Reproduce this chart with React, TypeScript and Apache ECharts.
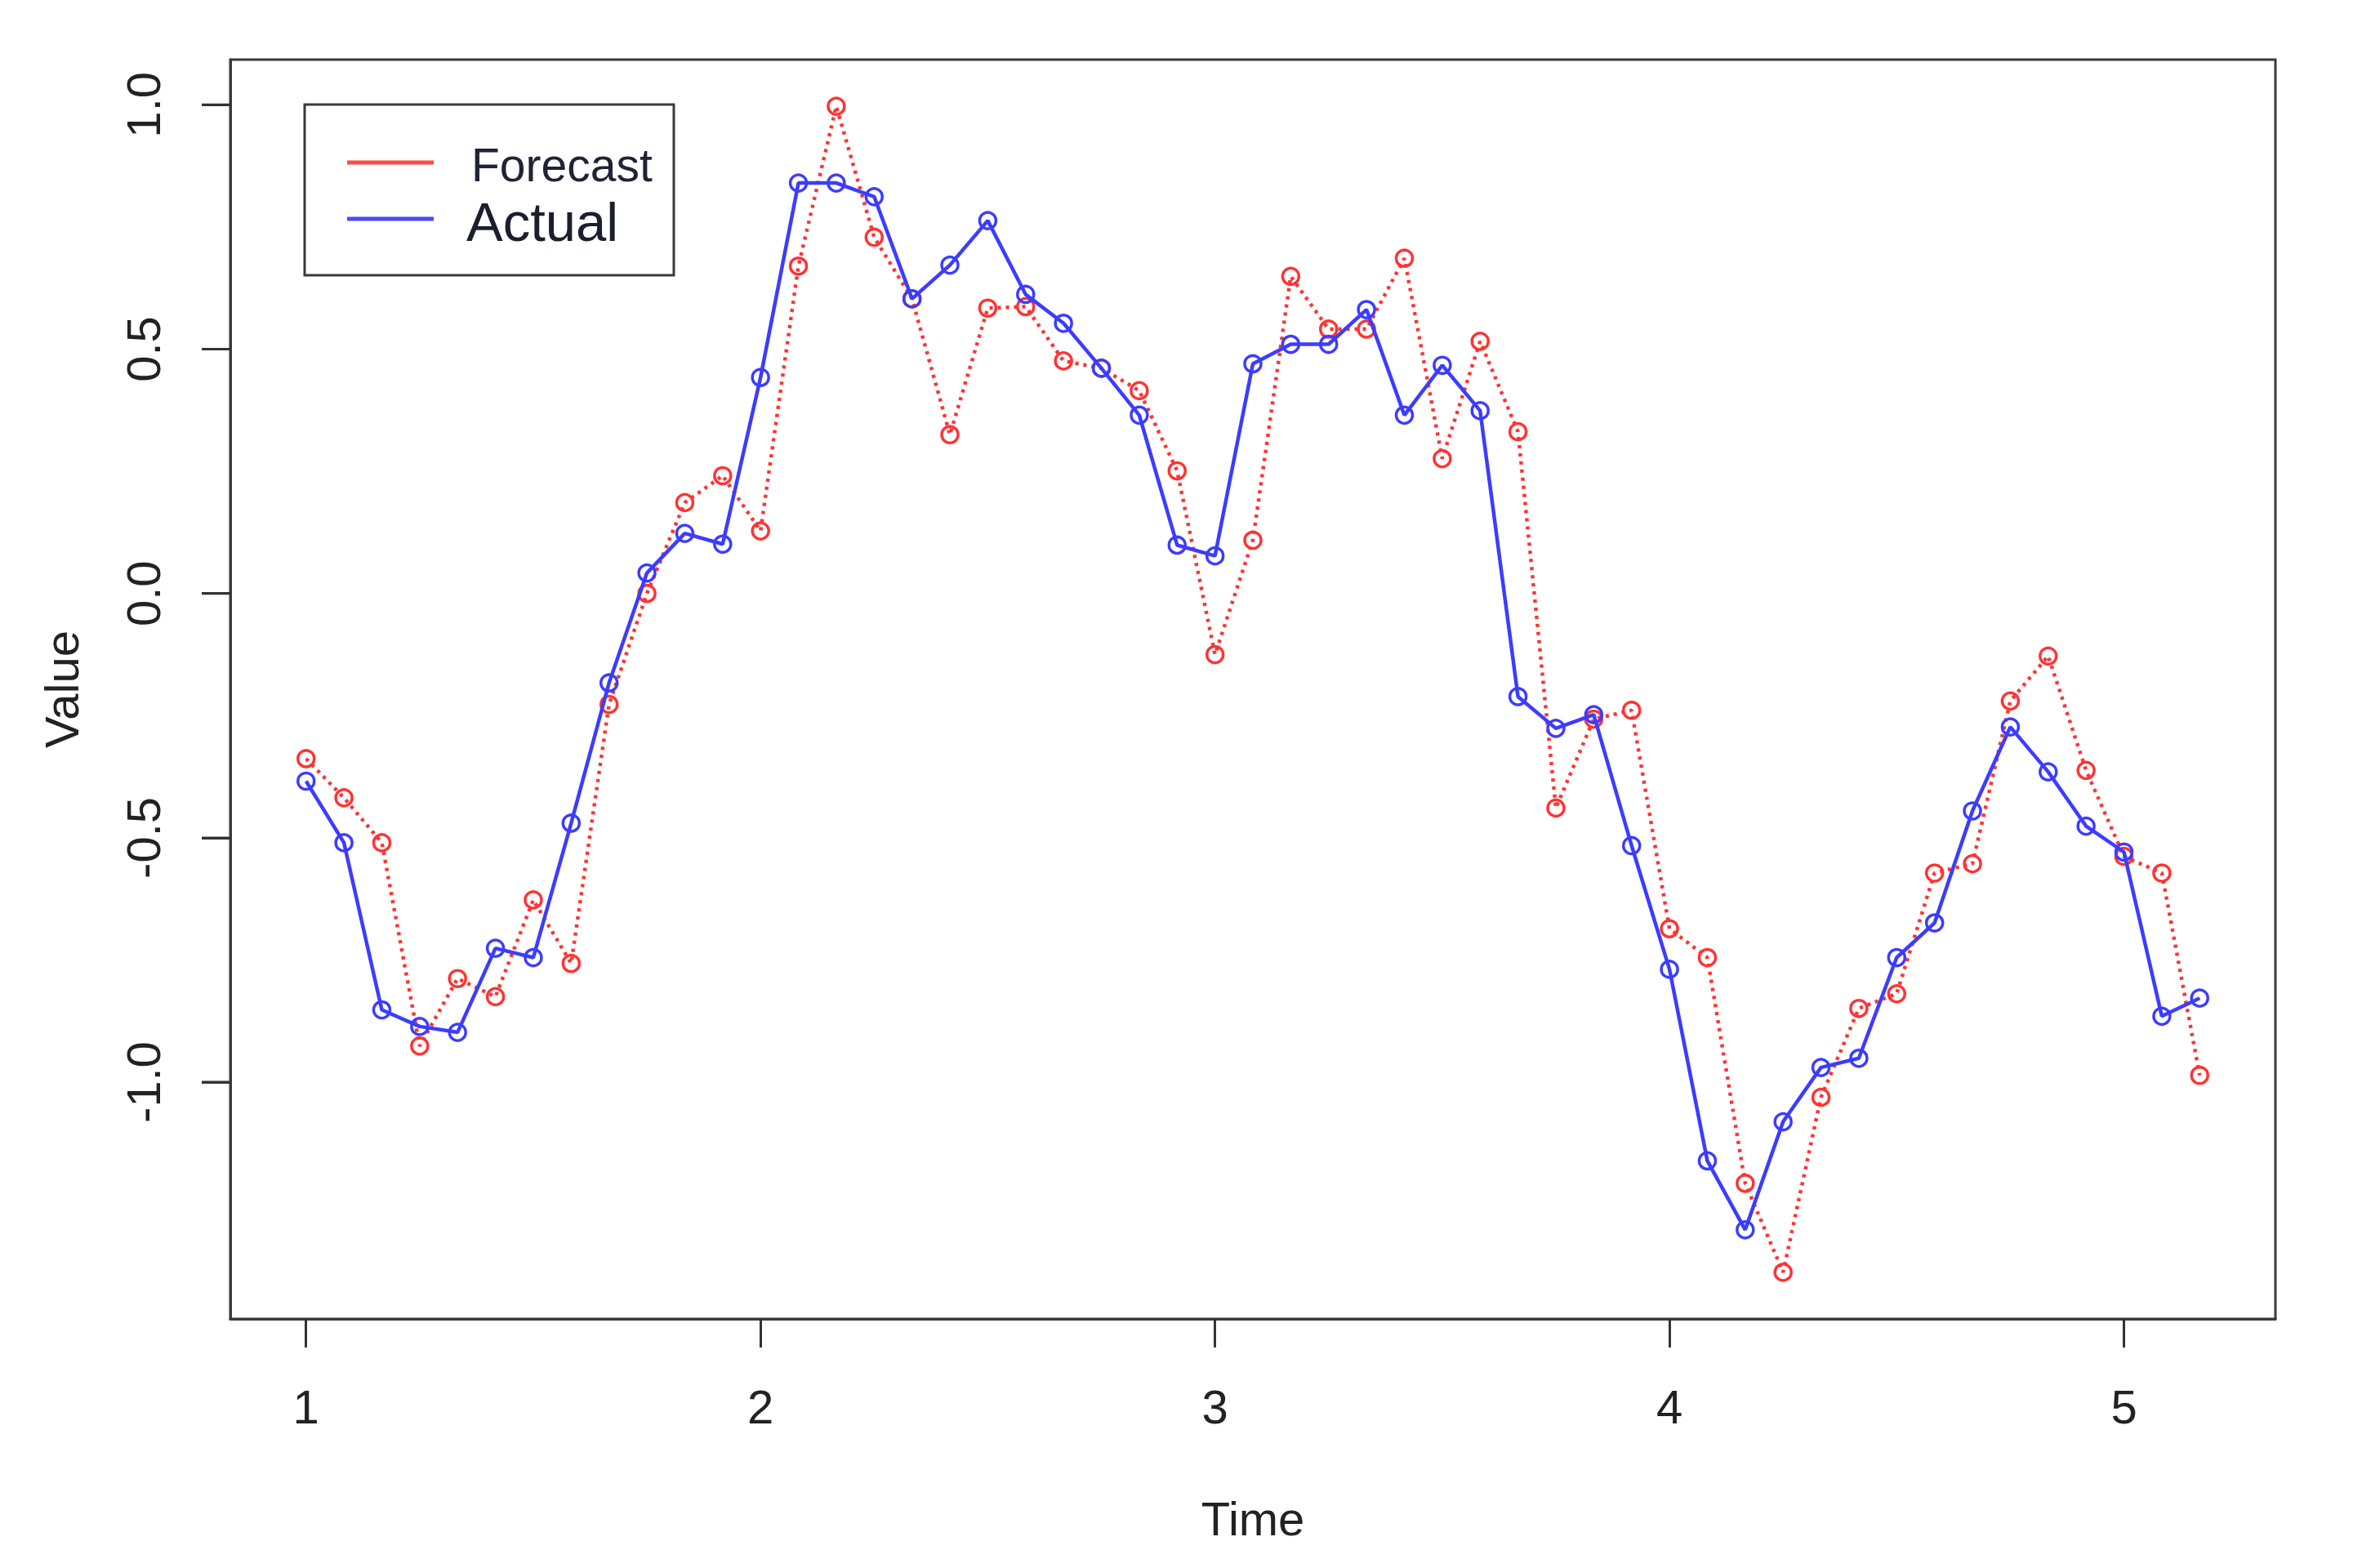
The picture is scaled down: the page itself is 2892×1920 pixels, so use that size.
import React, { useEffect, useRef } from "react";
import * as echarts from "echarts";

// Monthly series (frequency 12) starting at time 1
const START = 1;
const FREQ = 12;
const forecast = [
  -0.338, -0.418, -0.51, -0.926, -0.788, -0.825, -0.627, -0.757, -0.227, 0.0, 0.186, 0.241,
  0.128, 0.67, 0.997, 0.729, 0.603, 0.325, 0.584, 0.587, 0.476, 0.461, 0.415, 0.251,
  -0.125, 0.109, 0.649, 0.541, 0.541, 0.686, 0.276, 0.516, 0.331, -0.439, -0.257, -0.239,
  -0.686, -0.745, -1.207, -1.389, -1.031, -0.849, -0.819, -0.572, -0.553, -0.22, -0.128, -0.362,
  -0.538, -0.572, -0.986,
];
const actual = [
  -0.384, -0.51, -0.852, -0.886, -0.898, -0.726, -0.745, -0.47, -0.183, 0.042, 0.123, 0.101,
  0.442, 0.84, 0.84, 0.812, 0.603, 0.672, 0.763, 0.612, 0.553, 0.461, 0.365, 0.099,
  0.077, 0.47, 0.51, 0.51, 0.581, 0.365, 0.467, 0.374, -0.211, -0.276, -0.248, -0.516,
  -0.769, -1.161, -1.302, -1.081, -0.97, -0.951, -0.745, -0.674, -0.445, -0.273, -0.365, -0.476,
  -0.529, -0.865, -0.828,
];
const xTicks = [1, 2, 3, 4, 5];
const yTicks = [-1, -0.5, 0, 0.5, 1];
const seriesNames = ["Forecast", "Actual"];

const FONT = "Liberation Sans, Arial, sans-serif";
const RED = "#ff3333";
const BLUE = "#3c3cff";
const TICK_LEN = 35;

export default function App() {
  const ref = useRef<HTMLDivElement>(null);
  useEffect(() => {
    document.body.style.margin = "0";
    const chart = echarts.init(ref.current!, null, { renderer: "svg" });
    const times = actual.map((_, i) => START + i / FREQ);
    const n = times.length;
    const tMin = times[0];
    const tMax = times[n - 1];
    const tPad = (tMax - tMin) * 0.04;
    const xMin = tMin - tPad;
    const xMax = tMax + tPad;
    const all = forecast.concat(actual);
    const vMin = Math.min(...all);
    const vMax = Math.max(...all);
    const vPad = (vMax - vMin) * 0.04;

    const option: any = {
      animation: false,
      backgroundColor: "#ffffff",
      grid: {
        left: 282,
        top: 73,
        right: 106,
        bottom: 305,
        show: true,
        borderColor: "#3a3a3a",
        borderWidth: 3,
        backgroundColor: "transparent",
      },
      xAxis: {
        type: "value",
        position: "bottom",
        min: xMin,
        max: xMax,
        name: "Time",
        nameLocation: "middle",
        nameGap: 215,
        nameTextStyle: { fontFamily: FONT, fontSize: 58, color: "#222" },
        axisLine: { show: true, onZero: false, lineStyle: { color: "#3a3a3a", width: 3 } },
        splitLine: { show: false },
        axisTick: {
          show: true,
          inside: false,
          length: TICK_LEN,
          customValues: xTicks,
          lineStyle: { color: "#333", width: 3 },
        },
        axisLabel: {
          customValues: xTicks,
          margin: 78,
          fontFamily: FONT,
          fontSize: 58,
          color: "#222",
          formatter: (v: number) => String(v),
        },
      },
      yAxis: {
        type: "value",
        position: "left",
        min: vMin - vPad,
        max: vMax + vPad,
        name: "Value",
        nameLocation: "middle",
        nameGap: 178,
        nameRotate: 90,
        nameTextStyle: { fontFamily: FONT, fontSize: 58, color: "#222" },
        axisLine: { show: true, onZero: false, lineStyle: { color: "#3a3a3a", width: 3 } },
        splitLine: { show: false },
        axisTick: {
          show: true,
          inside: false,
          length: TICK_LEN,
          customValues: yTicks,
          lineStyle: { color: "#333", width: 3 },
        },
        axisLabel: {
          customValues: yTicks,
          rotate: 90,
          margin: 78,
          fontFamily: FONT,
          fontSize: 58,
          color: "#222",
          formatter: (v: number) => v.toFixed(1),
        },
      },
      series: [
        {
          name: seriesNames[0],
          type: "line",
          data: forecast.map((v, i) => [times[i], v]),
          symbol: "circle",
          symbolSize: 20,
          showSymbol: true,
          lineStyle: { color: RED, width: 4.5, type: [4, 6] },
          itemStyle: { color: "rgba(255,255,255,0)", borderColor: RED, borderWidth: 3.5 },
          z: 2,
        },
        {
          name: seriesNames[1],
          type: "line",
          data: actual.map((v, i) => [times[i], v]),
          symbol: "circle",
          symbolSize: 20,
          showSymbol: true,
          lineStyle: { color: BLUE, width: 4.5 },
          itemStyle: { color: "rgba(255,255,255,0)", borderColor: BLUE, borderWidth: 3.5 },
          z: 3,
        },
      ],
    };
    chart.setOption(option);

    const legendGraphics: any[] = [
      {
        type: "rect",
        shape: { x: 373, y: 128, width: 452, height: 209 },
        style: { fill: "#ffffff", stroke: "#3a3a3a", lineWidth: 3 },
        z: 10,
      },
      {
        type: "line",
        shape: { x1: 425, y1: 199, x2: 531, y2: 199 },
        style: { stroke: "#ff4a4a", lineWidth: 5 },
        z: 11,
      },
      {
        type: "line",
        shape: { x1: 425, y1: 268, x2: 531, y2: 268 },
        style: { stroke: "#4a4aff", lineWidth: 5 },
        z: 11,
      },
      {
        type: "text",
        x: 577,
        y: 202,
        style: {
          text: seriesNames[0],
          fontFamily: FONT,
          fontSize: 57,
          fill: "#1e2433",
          verticalAlign: "middle",
          align: "left",
        },
        z: 11,
      },
      {
        type: "text",
        x: 571,
        y: 271,
        style: {
          text: seriesNames[1],
          fontFamily: FONT,
          fontSize: 67,
          fill: "#1a1f2e",
          verticalAlign: "middle",
          align: "left",
        },
        z: 11,
      },
    ];

    // y-axis tick marks, positioned through the chart's own y scale
    const tickGraphics: any[] = [];
    try {
      yTicks.forEach((v) => {
        const p = chart.convertToPixel({ gridIndex: 0 }, [xMin, v]) as number[];
        if (p && isFinite(p[0]) && isFinite(p[1])) {
          tickGraphics.push({
            type: "line",
            shape: { x1: p[0] - TICK_LEN, y1: p[1], x2: p[0], y2: p[1] },
            style: { stroke: "#333", lineWidth: 3 },
            z: 12,
          });
        }
      });
    } catch (e) {
      // ignore
    }
    chart.setOption({ graphic: legendGraphics.concat(tickGraphics) });

    return () => chart.dispose();
  }, []);
  return (
    <div
      ref={ref}
      style={{ position: "absolute", left: 0, top: 0, width: 2892, height: 1920 }}
    />
  );
}
